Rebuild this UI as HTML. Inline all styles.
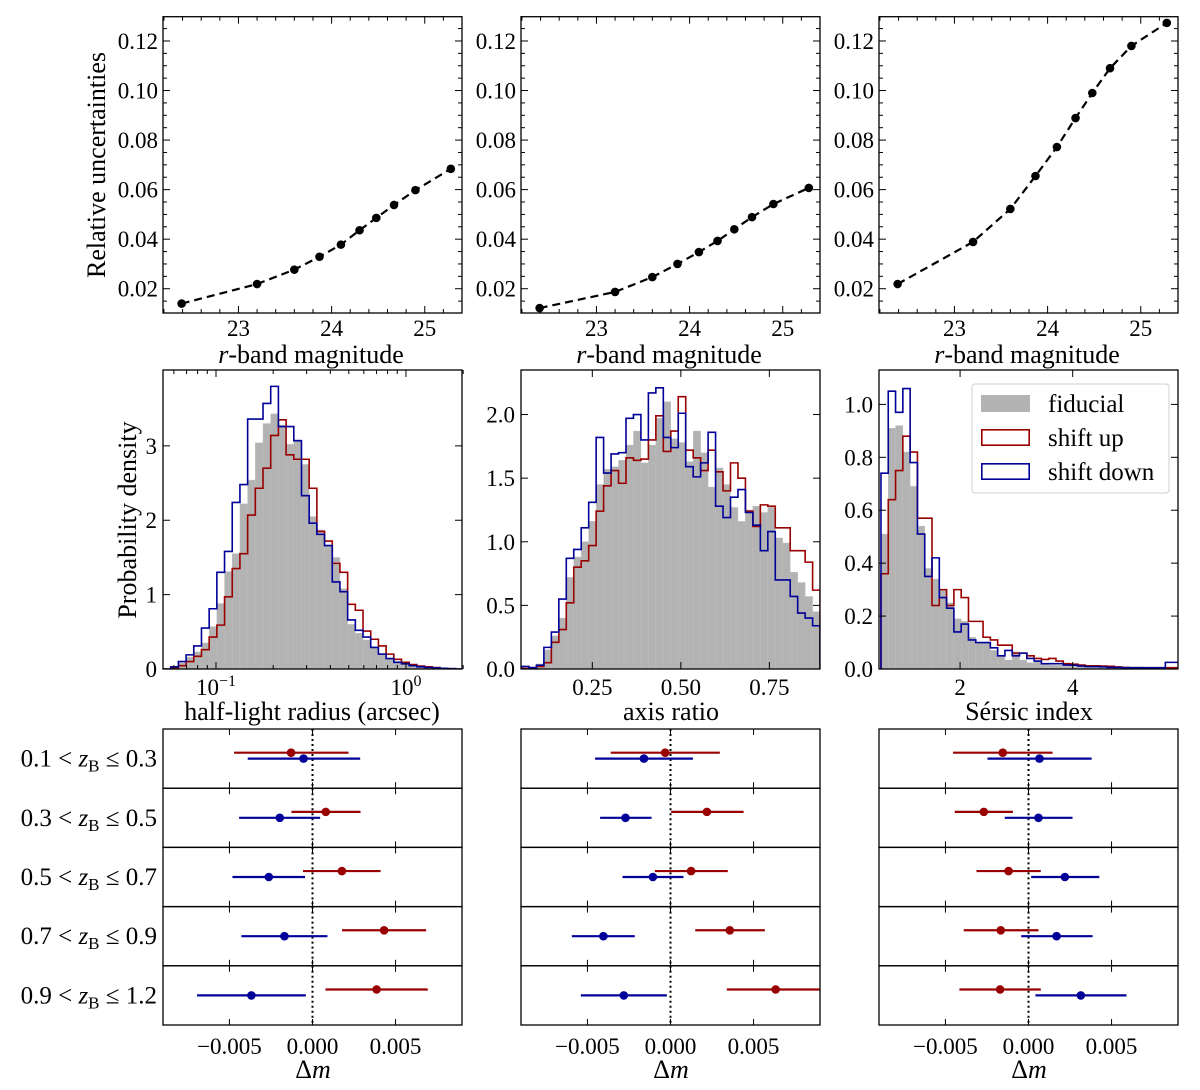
<!DOCTYPE html>
<html><head><meta charset="utf-8"><style>
html,body{margin:0;padding:0;background:#fff}
svg{display:block}
text{font-family:"Liberation Serif",serif;fill:#000}
</style></head><body>
<svg id="fig" width="1200" height="1090" viewBox="0 0 1200 1090" xmlns="http://www.w3.org/2000/svg"></svg>
<script>
// ---------- DATA ----------
const magX = [22.39,23.20,23.60,23.87,24.10,24.30,24.48,24.67,24.90,25.28];
const relUnc1 = [0.0140,0.0219,0.0277,0.0329,0.0378,0.0436,0.0486,0.0538,0.0598,0.0684];
const relUnc2 = [0.0122,0.0187,0.0247,0.0300,0.0348,0.0393,0.0440,0.0489,0.0542,0.0607];
const relUnc3 = [0.0219,0.0389,0.0522,0.0655,0.0772,0.0889,0.0990,0.1090,0.1180,0.1273];
const topXTicks = [23,24,25];
const topYTicks = [0.02,0.04,0.06,0.08,0.10,0.12];

// half-light radius histograms (log10 bins)
const hlrBinStart = -1.279, hlrBinWidth = 0.0405;
const hlrFid = [0,.02,.08,.16,.23,.35,.57,.88,1.31,1.55,2.22,2.54,3.04,3.30,3.43,3.28,3.02,3.08,2.75,2.05,1.87,1.65,1.50,1.08,.60,.48,.39,.30,.21,.14,.10,.07,.05,.03,.02,.01,.01,.005,0];
const hlrUp  = [0,.01,.045,.10,.17,.26,.43,.59,.97,1.35,1.55,2.07,2.43,2.70,3.14,3.35,2.88,2.82,2.82,2.43,1.85,1.72,1.42,1.30,.87,.79,.51,.40,.31,.20,.13,.09,.06,.04,.03,.02,.01,.005,0];
const hlrDown= [0,.03,.10,.19,.31,.55,.81,1.30,1.58,2.24,2.48,3.36,3.36,3.57,3.80,3.26,3.26,3.07,2.33,1.96,1.81,1.66,1.17,1.04,.66,.52,.43,.29,.20,.14,.09,.07,.045,.03,.02,.015,.01,.005,0];

// axis ratio histograms
const arBinStart = 0.05, arBinWidth = 0.02108;
const arFid = [.01,.01,.04,.15,.26,.40,.72,.88,1.00,1.16,1.45,1.57,1.59,1.64,1.76,1.87,1.62,1.76,1.97,2.10,1.81,1.78,1.63,1.87,1.70,1.43,1.58,1.45,1.27,1.16,1.25,1.28,1.23,1.27,1.03,.99,.76,.68,.57,.45];
const arUp  = [.005,.01,.02,.05,.21,.31,.52,.80,.85,.97,1.24,1.44,1.56,1.46,1.66,1.64,1.65,1.80,1.99,1.71,1.87,2.14,1.72,1.66,1.56,1.72,1.55,1.40,1.62,1.50,1.24,1.12,1.29,1.28,1.11,1.11,.93,.93,.84,.62];
const arDown= [.02,.01,.03,.17,.29,.55,.87,.94,1.11,1.31,1.82,1.54,1.69,1.70,1.97,2.00,1.80,2.17,2.21,1.82,1.74,2.01,1.59,1.51,1.62,1.86,1.28,1.19,1.35,1.41,1.23,1.13,.93,1.08,.70,.70,.57,.44,.40,.34];

// Sersic index histograms
const snBinStart = 0.595, snBinWidth = 0.1295;
const snFid = [.51,.91,.92,.82,.69,.54,.38,.34,.30,.25,.19,.18,.12,.10,.10,.07,.05,.034,.065,.034,.024,.03,.019,.015,.014,.011,.009,.008,.007,.006,.005,.004,.004,.003,.003,.003,.002,.002,.002,.002,.002];
const snUp  = [.36,.64,.75,.88,.82,.57,.57,.24,.30,.24,.30,.27,.18,.18,.12,.11,.09,.09,.06,.06,.05,.04,.036,.04,.03,.02,.018,.015,.012,.012,.011,.01,.008,.006,.005,.005,.004,.004,.004,.005,.005];
const snDown= [.74,1.05,.97,1.06,.78,.51,.35,.42,.27,.23,.14,.17,.11,.10,.10,.08,.05,.07,.05,.06,.04,.03,.02,.02,.02,.015,.014,.011,.009,.009,.008,.006,.006,.005,.005,.005,.005,.005,.005,.025,.025];

// Delta m per redshift bin: [center, low, high]
const zLabels = ["0.1","0.3","0.5","0.7","0.9","1.2"];
const dmHlrUp   = [[-0.00129,-0.00472,0.00217],[0.0008,-0.00127,0.00289],[0.00177,-0.00057,0.0041],[0.00431,0.00178,0.00684],[0.00386,0.00078,0.00694]];
const dmHlrDown = [[-0.00054,-0.0039,0.00287],[-0.00197,-0.00442,0.00046],[-0.00263,-0.00482,-0.00045],[-0.00169,-0.00428,0.0009],[-0.00368,-0.00695,-0.0004]];
const dmArUp    = [[-0.00032,-0.0036,0.00297],[0.00219,0.00004,0.0044],[0.00124,-0.00094,0.00345],[0.00357,0.00149,0.00568],[0.00633,0.00339,0.0095]];
const dmArDown  = [[-0.0016,-0.00454,0.00135],[-0.00271,-0.00424,-0.00114],[-0.00106,-0.00289,0.00078],[-0.00404,-0.00594,-0.00215],[-0.00281,-0.0054,-0.00022]];
const dmSnUp    = [[-0.00155,-0.00454,0.00145],[-0.00269,-0.00444,-0.00094],[-0.0012,-0.00313,0.00074],[-0.00167,-0.0039,0.0006],[-0.00171,-0.00416,0.00074]];
const dmSnDown  = [[0.00066,-0.00247,0.0038],[0.0006,-0.00143,0.00265],[0.00219,0.00016,0.00426],[0.00169,-0.00044,0.00386],[0.00315,0.00042,0.0059]];
const dmTicks = [-0.005,0,0.005];

// ---------- DRAWING ----------
const NS="http://www.w3.org/2000/svg";
const svg=document.getElementById('fig');
const RED="#990000", BLUE="#000099", GRAY="#b3b3b3";
const TICK=23, TITLE=26;
let clipId=0;
function el(tag,attrs,parent){const e=document.createElementNS(NS,tag);for(const k in attrs)e.setAttribute(k,attrs[k]);(parent||svg).appendChild(e);return e;}
function txt(s,x,y,size,anchor,parent){const t=el('text',{x:x,y:y,'font-size':size,'text-anchor':anchor||'middle'},parent);t.textContent=s;return t;}

function makeAxes(name,x0,y0,w,h,xmin,xmax,ymin,ymax,xlog){
  const g=el('g',{});
  
  
  const lx=v=>xlog?Math.log10(v):v;
  const sx=v=>x0+(lx(v)-lx(xmin))/(lx(xmax)-lx(xmin))*w;
  const sy=v=>y0+h-(v-ymin)/(ymax-ymin)*h;
  const id='c'+(clipId++);
  const cp=el('clipPath',{id:id},g);el('rect',{x:x0,y:y0,width:w,height:h},cp);
  const plot=el('g',{'clip-path':'url(#'+id+')'},g);
  return {g,plot,sx,sy,x0,y0,w,h};
}
function frame(ax){el('rect',{x:ax.x0,y:ax.y0,width:ax.w,height:ax.h,fill:'none',stroke:'#000','stroke-width':1.3},ax.g);}
function xtick(ax,v,len,both){const x=ax.sx(v);el('line',{x1:x,x2:x,y1:ax.y0+ax.h,y2:ax.y0+ax.h-len,stroke:'#000','stroke-width':1},ax.g);if(both!==false)el('line',{x1:x,x2:x,y1:ax.y0,y2:ax.y0+len,stroke:'#000','stroke-width':1},ax.g);}
function ytick(ax,v,len){const y=ax.sy(v);el('line',{x1:ax.x0,x2:ax.x0+len,y1:y,y2:y,stroke:'#000','stroke-width':1},ax.g);el('line',{x1:ax.x0+ax.w,x2:ax.x0+ax.w-len,y1:y,y2:y,stroke:'#000','stroke-width':1},ax.g);}

// Top row
const tops=[[163,relUnc1,'top-panel-1'],[521,relUnc2,'top-panel-2'],[879,relUnc3,'top-panel-3']];
tops.forEach(([x0,data,nm])=>{
  const ax=makeAxes(nm,x0,16.7,299,296.3,22.19,25.40,0.0102,0.1298,false);
  let d='';magX.forEach((m,i)=>{d+=(i?'L':'M')+ax.sx(m)+','+ax.sy(data[i]);});
  const ln=el('path',{d:d,fill:'none',stroke:'#000','stroke-width':2.2,'stroke-dasharray':'8,5'},ax.plot);
  
  magX.forEach((m,i)=>{const c=el('circle',{cx:ax.sx(m),cy:ax.sy(data[i]),r:4.3,fill:'#000'},ax.plot);
    });
  frame(ax);
  for(let v=22.2;v<25.41;v+=0.2){const r=Math.round(v*10)/10;xtick(ax,r,Number.isInteger(r)?7:4);}
  for(let v=0.015;v<0.13;v+=0.005){const r=Math.round(v*1000)/1000;ytick(ax,r,(Math.round(r*1000)%20===0)?7:4);}
  topXTicks.forEach(v=>{const t=txt(String(v),ax.sx(v),336,TICK);});
  topYTicks.forEach(v=>{const t=txt(v.toFixed(2),x0-5,ax.sy(v)+8,TICK,'end');});
  const xl=el('text',{x:x0+148,y:363,'font-size':TITLE,'text-anchor':'middle'});
  xl.innerHTML='<tspan font-style="italic">r</tspan>-band magnitude';
  
});
{const t=el('text',{x:0,y:0,'font-size':TITLE,'text-anchor':'middle',transform:'translate(105,165) rotate(-90)'});t.textContent='Relative uncertainties';
}

// Middle row
function hist(ax,start,width,vals,mode,color,xlog){
  const ex=i=>{const e=start+i*width;return xlog?Math.pow(10,e):e;};
  if(mode==='fill'){
    vals.forEach((v,i)=>{const x1=ax.sx(ex(i)),x2=ax.sx(ex(i+1));
      const r=el('rect',{x:x1,y:ax.sy(v),width:x2-x1,height:ax.sy(0)-ax.sy(v),fill:GRAY,stroke:'#bdbdbd','stroke-width':0.4},ax.plot);
      });
  } else {
    let d='M'+ax.sx(ex(0))+','+ax.sy(0);
    vals.forEach((v,i)=>{d+='L'+ax.sx(ex(i))+','+ax.sy(v)+'L'+ax.sx(ex(i+1))+','+ax.sy(v);});
    d+='L'+ax.sx(ex(vals.length))+','+ax.sy(0);
    const p=el('path',{d:d,fill:'none',stroke:color,'stroke-width':1.6},ax.plot);
    
  }
}
const midY=370,midH=299;
// panel 1
{const ax=makeAxes('hist-half-light-radius',163,midY,299,midH,Math.pow(10,-1.279),Math.pow(10,0.295),0,4.02,true);
 hist(ax,hlrBinStart,hlrBinWidth,hlrFid,'fill',null,true);
 hist(ax,hlrBinStart,hlrBinWidth,hlrUp,'step',RED,true);
 hist(ax,hlrBinStart,hlrBinWidth,hlrDown,'step',BLUE,true);
 frame(ax);
 [0.06,0.07,0.08,0.09,0.2,0.3,0.4,0.5,0.6,0.7,0.8,0.9,2].forEach(v=>xtick(ax,v,4));
 [0.1,1].forEach(v=>xtick(ax,v,7));
 [0,1,2,3].forEach(v=>{ytick(ax,v,7);const t=txt(String(v),157,ax.sy(v)+8,TICK,'end');});
 [[0.1,'−1'],[1,'0']].forEach(([v,e])=>{const t=el('text',{x:ax.sx(v),y:695,'font-size':TICK,'text-anchor':'middle'});t.innerHTML='10<tspan font-size="16" dy="-9">'+e+'</tspan>';
   });
 const xl=txt('half-light radius (arcsec)',312,720,TITLE);
}
{const t=el('text',{x:0,y:0,'font-size':TITLE,'text-anchor':'middle',transform:'translate(136,520) rotate(-90)'});t.textContent='Probability density';
}
// panel 2
{const ax=makeAxes('hist-axis-ratio',521,midY,299,midH,0.0486,0.893,0,2.35,false);
 hist(ax,arBinStart,arBinWidth,arFid,'fill');
 hist(ax,arBinStart,arBinWidth,arUp,'step',RED);
 hist(ax,arBinStart,arBinWidth,arDown,'step',BLUE);
 frame(ax);
 [0.25,0.5,0.75].forEach(v=>{xtick(ax,v,7);const t=txt(v.toFixed(2),ax.sx(v),695,TICK);});
 [0,0.5,1,1.5,2].forEach(v=>{ytick(ax,v,7);const t=txt(v.toFixed(1),515,ax.sy(v)+8,TICK,'end');});
 const xl=txt('axis ratio',671,720,TITLE);
}
// panel 3
{const ax=makeAxes('hist-sersic-index',879,midY,299,midH,0.56,5.87,0,1.13,false);
 hist(ax,snBinStart,snBinWidth,snFid,'fill');
 hist(ax,snBinStart,snBinWidth,snUp,'step',RED);
 hist(ax,snBinStart,snBinWidth,snDown,'step',BLUE);
 frame(ax);
 [2,4].forEach(v=>{xtick(ax,v,7);const t=txt(String(v),ax.sx(v),695,TICK);});
 [0,0.2,0.4,0.6,0.8,1.0].forEach(v=>{ytick(ax,v,7);const t=txt(v.toFixed(1),873,ax.sy(v)+8,TICK,'end');});
 const xl=txt('Sérsic index',1029,720,TITLE);
 // legend
 const lg=el('g',{});
 el('rect',{x:972,y:384,width:197,height:109,rx:3,fill:'#fff','fill-opacity':0.85,stroke:'#d0d0d0','stroke-width':1},lg);
 el('rect',{x:981,y:395,width:49,height:17,fill:GRAY},lg);
 el('rect',{x:981.8,y:429.8,width:47.4,height:15.4,fill:'none',stroke:RED,'stroke-width':1.6},lg);
 el('rect',{x:981.8,y:463.8,width:47.4,height:15.4,fill:'none',stroke:BLUE,'stroke-width':1.6},lg);
 [['fiducial',412],['shift up',446],['shift down',480]].forEach(([s,y])=>{const t=txt(s,1048,y,25,'start',lg);});
}

// Bottom row
const botPanels=[[163,dmHlrUp,dmHlrDown,'dm-half-light-radius'],[521,dmArUp,dmArDown,'dm-axis-ratio'],[879,dmSnUp,dmSnDown,'dm-sersic-index']];
const rowTop=729,rowH=59.2;
botPanels.forEach(([x0,up,down,nm])=>{
  for(let r=0;r<5;r++){
    const ax=makeAxes(nm+'-row-'+(r+1),x0,rowTop+r*rowH,299,rowH,-0.009,0.009,0,1,false);
    el('line',{x1:ax.sx(0),x2:ax.sx(0),y1:ax.y0,y2:ax.y0+rowH,stroke:'#000','stroke-width':2,'stroke-dasharray':'2,3'},ax.plot);
    [[up[r],RED,0.4,'shift-up-errorbar'],[down[r],BLUE,0.5,'shift-down-errorbar']].forEach(([d,c,fy,n])=>{
      const y=ax.y0+rowH*fy;
      const g=el('g',{},ax.plot);
      el('line',{x1:ax.sx(d[1]),x2:ax.sx(d[2]),y1:y,y2:y,stroke:c,'stroke-width':2.2},g);
      el('circle',{cx:ax.sx(d[0]),cy:y,r:4.3,fill:c},g);
    });
    frame(ax);
    dmTicks.forEach(v=>xtick(ax,v,6));
    if(x0===163){
      const t=el('text',{x:157,y:ax.y0+rowH/2+8,'font-size':25,'text-anchor':'end'});
      t.innerHTML=zLabels[r]+' &lt; <tspan font-style="italic">z</tspan><tspan font-size="17" dy="5">B</tspan><tspan dy="-5"> ≤ </tspan>'+zLabels[r+1];
      
    }
    if(r===4){
      dmTicks.forEach(v=>{const t=txt(v===0?'0.000':(v<0?'−':'')+Math.abs(v).toFixed(3),ax.sx(v),1054,TICK);});
      const xl=el('text',{x:x0+150,y:1078,'font-size':TITLE,'text-anchor':'middle'});xl.innerHTML='Δ<tspan font-style="italic">m</tspan>';
      
    }
  }
});
</script>
</body></html>
